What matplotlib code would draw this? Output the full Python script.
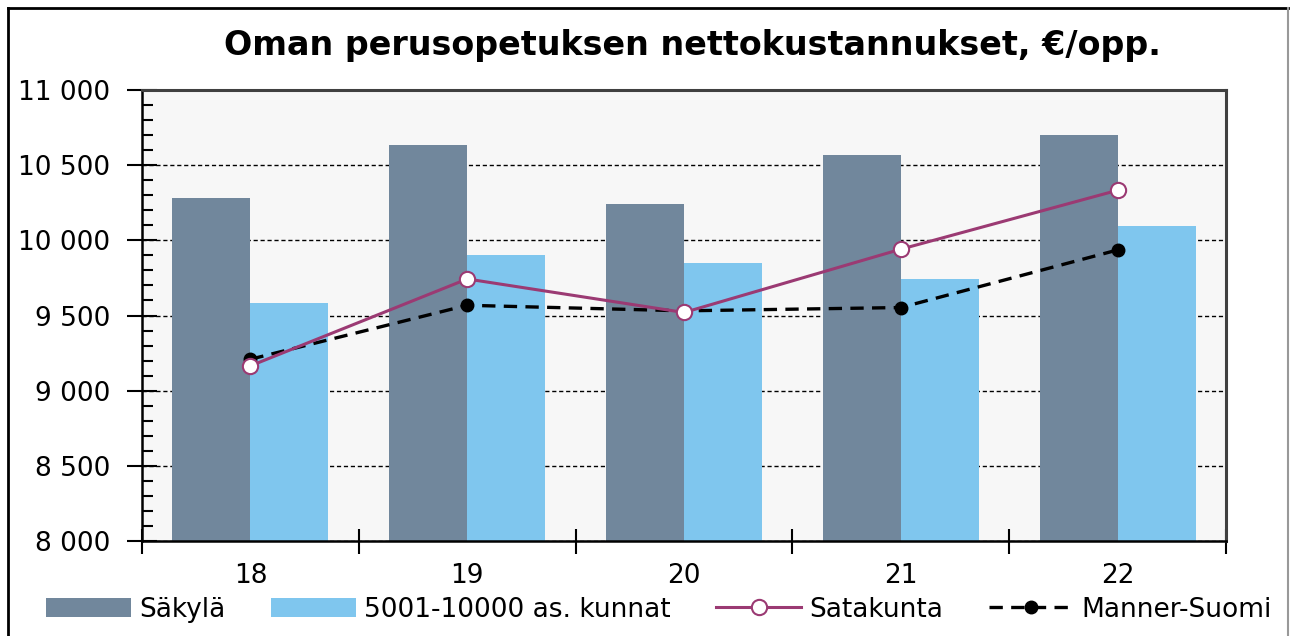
import matplotlib.pyplot as plt
import numpy as np
from matplotlib.lines import Line2D
from matplotlib.ticker import MultipleLocator, FuncFormatter

years = ["18", "19", "20", "21", "22"]
sakyla = [10280, 10636, 10242, 10570, 10701]
kunnat = [9586, 9901, 9848, 9743, 10096]
satakunta = [9165, 9743, 9520, 9941, 10333]
manner = [9209, 9568, 9531, 9553, 9936]

plt.rcParams['font.family'] = ['DejaVu Sans']

fig = plt.figure(figsize=(12.9, 6.36), dpi=100)
ax = fig.add_axes([142/1290, 1-541/636, (1226-142)/1290, (541-90)/636])
ax.set_facecolor('#f7f7f7')

x = np.arange(len(years))
w = 0.36
b1 = ax.bar(x - w/2, sakyla, w, color='#71879c', label='Säkylä', zorder=2)
b2 = ax.bar(x + w/2, kunnat, w, color='#7fc6ee', label='5001-10000 as. kunnat', zorder=2)
l1, = ax.plot(x, satakunta, color='#9b3a73', lw=2.2, marker='o', ms=11,
              mfc='white', mec='#9b3a73', mew=1.5, label='Satakunta', zorder=4)
l2, = ax.plot(x, manner, color='black', lw=2.4, ls=(0, (4, 2.5)), marker='o', ms=9,
              mfc='black', mec='black', label='Manner-Suomi', zorder=3)

ax.set_xlim(-0.5, 4.5)
ax.set_ylim(8000, 11000)
ax.yaxis.set_major_locator(MultipleLocator(500))
ax.yaxis.set_minor_locator(MultipleLocator(100))
ax.yaxis.set_major_formatter(FuncFormatter(lambda v, p: f"{int(v):,}".replace(",", " ")))
ax.grid(axis='y', which='major', color='black', ls=(0, (3, 2)), lw=1.0, zorder=1)
ax.tick_params(axis='y', which='major', direction='inout', length=22, width=1.5,
               labelsize=19, pad=12)
ax.tick_params(axis='y', which='minor', direction='in', length=8, width=1.5)

ax.set_xticks(np.arange(-0.5, 5, 1))
ax.set_xticklabels([])
ax.set_xticks(x, minor=True)
ax.set_xticklabels(years, minor=True)
ax.tick_params(axis='x', which='major', direction='inout', length=18, width=1.5)
ax.tick_params(axis='x', which='minor', length=0, labelsize=19, pad=16)

for s in ['left', 'bottom']:
    ax.spines[s].set_linewidth(1.8)
    ax.spines[s].set_color('black')
for s in ['top', 'right']:
    ax.spines[s].set_linewidth(2.2)
    ax.spines[s].set_color('#404040')

fig.text(0.537, 1-46/636, "Oman perusopetuksen nettokustannukset, €/opp.",
         ha='center', va='center', fontsize=24, fontweight='bold')

ax.legend([b1, b2, l1, l2], ['Säkylä', '5001-10000 as. kunnat', 'Satakunta', 'Manner-Suomi'],
          loc='center', bbox_to_anchor=((45+1273)/2/1084 - 142/1084, -0.152),
          ncol=4, frameon=False,
          fontsize=19, handlelength=3.2, handletextpad=0.3, columnspacing=1.75)

fig.add_artist(Line2D([8/1290, 8/1290], [0, 1-8/636], color='black', lw=2,
                      transform=fig.transFigure))
fig.add_artist(Line2D([8/1290, 1288/1290], [1-8/636, 1-8/636], color='black', lw=2,
                      transform=fig.transFigure))
fig.add_artist(Line2D([1288/1290, 1288/1290], [0, 1-8/636], color='#999999', lw=1.5,
                      transform=fig.transFigure))

plt.savefig("out.png", dpi=100)
